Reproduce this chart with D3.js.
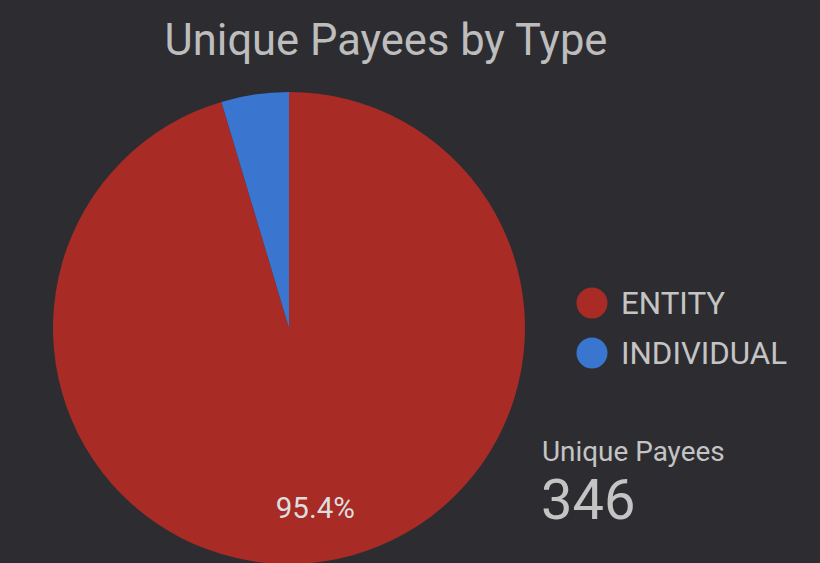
<!DOCTYPE html>
<html>
<head>
<meta charset="utf-8">
<script src="https://cdn.jsdelivr.net/npm/d3@7"></script>
<style>
  html, body { margin: 0; padding: 0; background: #2d2d31; overflow: hidden; }
  text { font-family: Roboto, "Noto Sans", sans-serif; }
</style>
</head>
<body>
<div class="canva"></div>
<script>
// data
const types = ["ENTITY", "INDIVIDUAL"];
const payees = [330, 16];
const colors = ["#a82b26", "#3a76d0"];
const totalLabel = "Unique Payees";

const width = 820, height = 563;
const cx = 289, cy = 328, radius = 236;

const svg = d3.select(".canva").append("svg")
    .attr("width", width)
    .attr("height", height);

svg.append("text")
    .attr("x", 386)
    .attr("y", 55)
    .attr("text-anchor", "middle")
    .attr("fill", "#bdbdbd")
    .style("font-size", "43.5px")
    .text("Unique Payees by Type");

const color = d3.scaleOrdinal().domain(types).range(colors);

const pie = d3.pie().sort(null).value((d, i) => payees[i]);
const arcs = pie(types);
const arc = d3.arc().innerRadius(0).outerRadius(radius);
const labelArc = d3.arc().innerRadius(radius * 0.77).outerRadius(radius * 0.77);

const g = svg.append("g").attr("transform", `translate(${cx},${cy})`);

g.selectAll("path")
    .data(arcs)
    .join("path")
    .attr("d", arc)
    .attr("fill", d => color(d.data));

const total = d3.sum(payees);
g.selectAll("text.pct")
    .data(arcs.filter(d => d.endAngle - d.startAngle > 0.5))
    .join("text")
    .attr("class", "pct")
    .attr("transform", d => `translate(${labelArc.centroid(d)})`)
    .attr("text-anchor", "middle")
    .attr("dy", "0.35em")
    .attr("fill", "#dedede")
    .style("font-size", "29.5px")
    .text(d => d3.format(".1%")(d.value / total));

// legend
const legend = svg.append("g").attr("transform", "translate(592,303)");
const item = legend.selectAll("g")
    .data(types)
    .join("g")
    .attr("transform", (d, i) => `translate(0,${i * 50})`);

item.append("circle")
    .attr("r", 15.5)
    .attr("fill", d => color(d));

item.append("text")
    .attr("x", 29)
    .attr("dy", "0.36em")
    .attr("fill", "#c4c4c4")
    .style("font-size", "31.3px")
    .text(d => d);

// scorecard
svg.append("text")
    .attr("x", 542)
    .attr("y", 461)
    .attr("fill", "#c4c4c4")
    .style("font-size", "27.9px")
    .text(totalLabel);

svg.append("text")
    .attr("x", 541)
    .attr("y", 519)
    .attr("fill", "#c4c4c4")
    .style("font-size", "56px")
    .text(total);
</script>
</body>
</html>
